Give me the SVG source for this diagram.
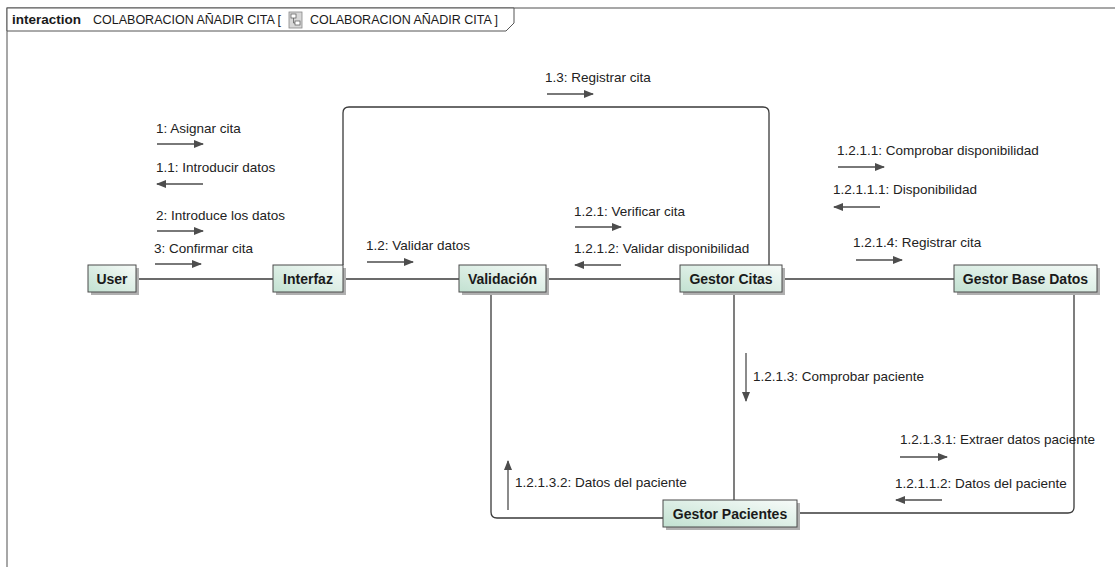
<svg xmlns="http://www.w3.org/2000/svg" width="1115" height="567" viewBox="0 0 1115 567">
<defs>
<linearGradient id="ng" x1="0" y1="1" x2="1" y2="0">
<stop offset="0" stop-color="#c2e1d1"/>
<stop offset="1" stop-color="#f7fbf9"/>
</linearGradient>
<marker id="ah" viewBox="0 0 10 8" refX="9" refY="4" markerWidth="10" markerHeight="8" markerUnits="userSpaceOnUse" orient="auto">
<path d="M0,0 L10,4 L0,8 Z" fill="#4d4d4d"/>
</marker>
</defs>
<style>
.frame{fill:none;stroke:#8a8a8a;stroke-width:1.5}
.hdr{fill:#fff;stroke:#555;stroke-width:1}
.ht{font-family:"Liberation Sans",Arial,sans-serif;font-size:12.5px;fill:#1a1a1a}
.hb{font-weight:bold;font-size:13.5px}
.shadow{fill:#b0b0b0}
.box{fill:url(#ng);stroke:#4a4a4a;stroke-width:1}
.nl{font-family:"Liberation Sans",Arial,sans-serif;font-size:14px;font-weight:bold;fill:#1a1a1a;text-anchor:middle}
.link{fill:none;stroke:#3a3a3a;stroke-width:1.3}
.msg{stroke:#4d4d4d;stroke-width:1.3;fill:none;marker-end:url(#ah)}
.ml{font-family:"Liberation Sans",Arial,sans-serif;font-size:13.5px;fill:#222}
</style>
<rect width="1115" height="567" fill="#fff"/>
<path class="frame" d="M7,567 V8 H1115"/>
<g id="header">
<path class="hdr" d="M7,8 H514 V23 L506,31 H7 Z"/>
<text class="ht hb" x="12" y="24">interaction</text>
<text class="ht" x="93" y="24">COLABORACION AÑADIR CITA [</text>
<rect x="289" y="12" width="13" height="16" fill="#d8d8d8" stroke="#888" stroke-width="0.8"/>
<rect x="291" y="14" width="5" height="4" fill="#fff" stroke="#555" stroke-width="0.7"/>
<rect x="295" y="21" width="5" height="4" fill="#fff" stroke="#555" stroke-width="0.7"/>
<path d="M293.5,18 V23 H295" fill="none" stroke="#555" stroke-width="0.7"/>
<text class="ht" x="310" y="24">COLABORACION AÑADIR CITA ]</text>
</g>
<g id="connectors">
<path class="link" d="M136,279 H273"/>
<path class="link" d="M343,279 H459"/>
<path class="link" d="M546,279 H680"/>
<path class="link" d="M782,279 H954"/>
<path class="link" d="M343,265 V113 Q343,107 349,107 H763 Q769,107 769,113 V265"/>
<path class="link" d="M491,292 V512 Q491,518 497,518 H663"/>
<path class="link" d="M734,292 V500"/>
<path class="link" d="M1074,292 V507 Q1074,513 1068,513 H797"/>
</g>
<g id="messages">
<text class="ml" x="156" y="133">1: Asignar cita</text>
<path class="msg" d="M157,144 H203"/>
<text class="ml" x="156" y="172">1.1: Introducir datos</text>
<path class="msg" d="M203,184 H157"/>
<text class="ml" x="156" y="220">2: Introduce los datos</text>
<path class="msg" d="M157,231 H203"/>
<text class="ml" x="154" y="253">3: Confirmar cita</text>
<path class="msg" d="M155,264 H201"/>
<text class="ml" x="366" y="250">1.2: Validar datos</text>
<path class="msg" d="M367,262 H413"/>
<text class="ml" x="545" y="82">1.3: Registrar cita</text>
<path class="msg" d="M547,94 H593"/>
<text class="ml" x="574" y="216">1.2.1: Verificar cita</text>
<path class="msg" d="M575,227 H621"/>
<text class="ml" x="574" y="253">1.2.1.2: Validar disponibilidad</text>
<path class="msg" d="M621,265 H575"/>
<text class="ml" x="837" y="155">1.2.1.1: Comprobar disponibilidad</text>
<path class="msg" d="M838,167 H884"/>
<text class="ml" x="833" y="194">1.2.1.1.1: Disponibilidad</text>
<path class="msg" d="M880,207 H834"/>
<text class="ml" x="853" y="247">1.2.1.4: Registrar cita</text>
<path class="msg" d="M856,260 H902"/>
<text class="ml" x="753" y="381">1.2.1.3: Comprobar paciente</text>
<path class="msg" d="M746,353 V401"/>
<text class="ml" x="515" y="487">1.2.1.3.2: Datos del paciente</text>
<path class="msg" d="M508,510 V461"/>
<text class="ml" x="900" y="444">1.2.1.3.1: Extraer datos paciente</text>
<path class="msg" d="M900,457 H947"/>
<text class="ml" x="895" y="488">1.2.1.1.2: Datos del paciente</text>
<path class="msg" d="M942,500 H896"/>
</g>
<g id="node-user">
<rect class="shadow" x="91" y="268" width="48" height="27"/>
<rect class="box" x="88" y="265" width="48" height="27"/>
<text class="nl" x="112" y="284">User</text>
</g>
<g id="node-interfaz">
<rect class="shadow" x="276" y="268" width="70" height="27"/>
<rect class="box" x="273" y="265" width="70" height="27"/>
<text class="nl" x="308" y="284">Interfaz</text>
</g>
<g id="node-validacion">
<rect class="shadow" x="462" y="268" width="87" height="27"/>
<rect class="box" x="459" y="265" width="87" height="27"/>
<text class="nl" x="502.5" y="284">Validación</text>
</g>
<g id="node-gestor-citas">
<rect class="shadow" x="683" y="268" width="102" height="27"/>
<rect class="box" x="680" y="265" width="102" height="27"/>
<text class="nl" x="731" y="284">Gestor Citas</text>
</g>
<g id="node-gestor-base-datos">
<rect class="shadow" x="957" y="268" width="143" height="27"/>
<rect class="box" x="954" y="265" width="143" height="27"/>
<text class="nl" x="1025.5" y="284">Gestor Base Datos</text>
</g>
<g id="node-gestor-pacientes">
<rect class="shadow" x="666" y="503" width="134" height="27"/>
<rect class="box" x="663" y="500" width="134" height="27"/>
<text class="nl" x="730" y="519">Gestor Pacientes</text>
</g>
</svg>
